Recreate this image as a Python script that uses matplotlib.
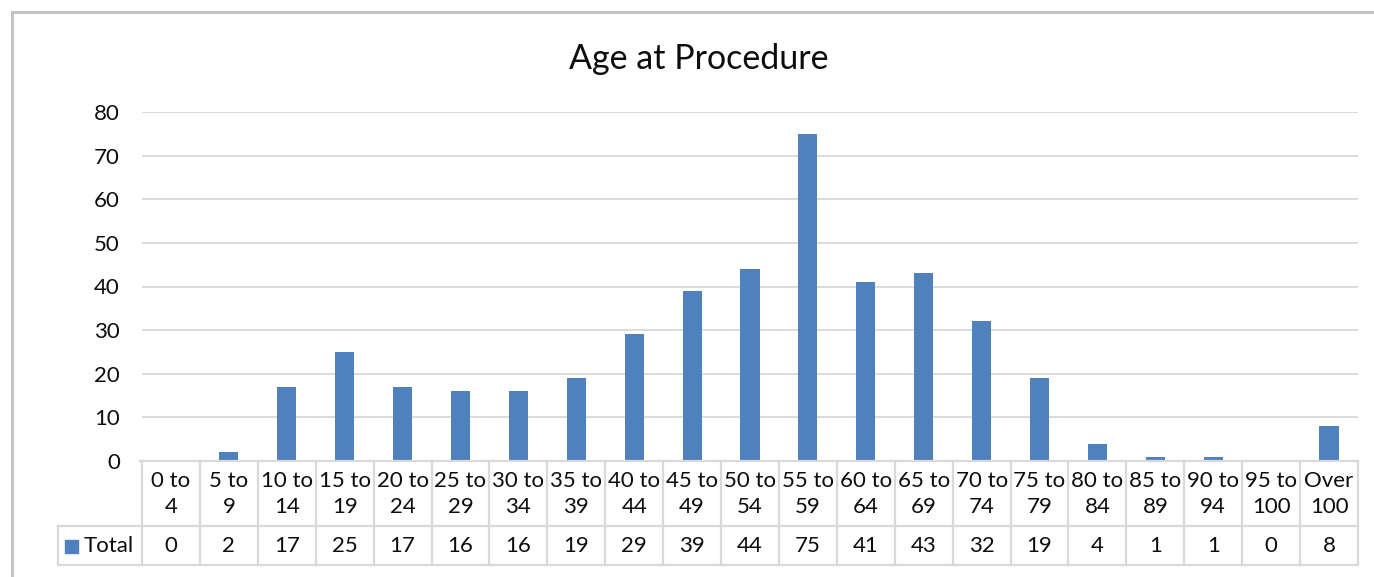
import matplotlib.pyplot as plt
from matplotlib import transforms
from matplotlib.lines import Line2D
from matplotlib.patches import Rectangle

plt.rcParams['font.family'] = ['Lato', 'DejaVu Sans']

# data
age_groups = ["0 to\n4", "5 to\n9", "10 to\n14", "15 to\n19", "20 to\n24", "25 to\n29",
              "30 to\n34", "35 to\n39", "40 to\n44", "45 to\n49", "50 to\n54", "55 to\n59",
              "60 to\n64", "65 to\n69", "70 to\n74", "75 to\n79", "80 to\n84", "85 to\n89",
              "90 to\n94", "95 to\n100", "Over\n100"]
totals = [0, 2, 17, 25, 17, 16, 16, 19, 29, 39, 44, 75, 41, 43, 32, 19, 4, 1, 1, 0, 8]
y_ticks = [0, 10, 20, 30, 40, 50, 60, 70, 80]

W, H = 1374, 577
bar_col = '#4f81bd'
grid_col = '#d9d9d9'
txt_col = '#0d0d0d'
fs = 16

fig = plt.figure(figsize=(W / 100, H / 100), dpi=100)

def fy(py):
    return 1 - py / H

def fx(px):
    return px / W

ax = fig.add_axes([fx(142), fy(461), fx(1358) - fx(142), fy(112) - fy(461)])
n = len(totals)
ax.bar(range(n), totals, width=0.33, color=bar_col, zorder=3)
ax.set_xlim(-0.5, n - 0.5)
ax.set_ylim(0, 80)
ax.set_yticks(y_ticks)
ax.set_yticklabels([str(t) for t in y_ticks], fontsize=fs, color=txt_col)
ax.tick_params(axis='y', length=0, pad=16)
ax.set_xticks([])
for s in ax.spines.values():
    s.set_visible(False)
for t in y_ticks[1:]:
    ax.axhline(t, color=grid_col, lw=1.3, zorder=1)

# data table under the axis
tr = transforms.blended_transform_factory(ax.transData, fig.transFigure)
lw_tab = 1.6
# horizontal lines
fig.add_artist(Line2D([-0.5 - 0.03, n - 0.5], [fy(461), fy(461)], transform=tr,
                      color=grid_col, lw=lw_tab))
for py in [526, 565]:
    fig.add_artist(Line2D([fx(58), fx(1358)], [fy(py), fy(py)], transform=fig.transFigure,
                          color=grid_col, lw=lw_tab))
# vertical lines
for i in range(n + 1):
    fig.add_artist(Line2D([i - 0.5, i - 0.5], [fy(461), fy(565)], transform=tr,
                          color=grid_col, lw=lw_tab))
fig.add_artist(Line2D([fx(58), fx(58)], [fy(526), fy(565)], transform=fig.transFigure,
                      color=grid_col, lw=lw_tab))

for i, (lab, v) in enumerate(zip(age_groups, totals)):
    ax.text(i, fy(494), lab, transform=tr, ha='center', va='center', fontsize=fs,
            color=txt_col, linespacing=1.35)
    ax.text(i, fy(546), str(v), transform=tr, ha='center', va='center', fontsize=fs,
            color=txt_col)

# legend key
fig.add_artist(Rectangle((fx(65), fy(553)), fx(13), fy(540) - fy(553), transform=fig.transFigure,
                         color=bar_col))
fig.text(fx(84), fy(546), "Total", ha='left', va='center', fontsize=fs, color=txt_col)

# title
fig.text(fx(699), fy(69), "Age at Procedure", ha='center', va='baseline', fontsize=24.5,
         color=txt_col)

# chart border
fig.add_artist(Line2D([fx(12), fx(12)], [fy(12), 0], transform=fig.transFigure,
                      color='#c4c4c4', lw=2.2))
fig.add_artist(Line2D([fx(12), 1], [fy(12), fy(12)], transform=fig.transFigure,
                      color='#c4c4c4', lw=2.2))

fig.savefig('out.png', dpi=100, facecolor='white')
